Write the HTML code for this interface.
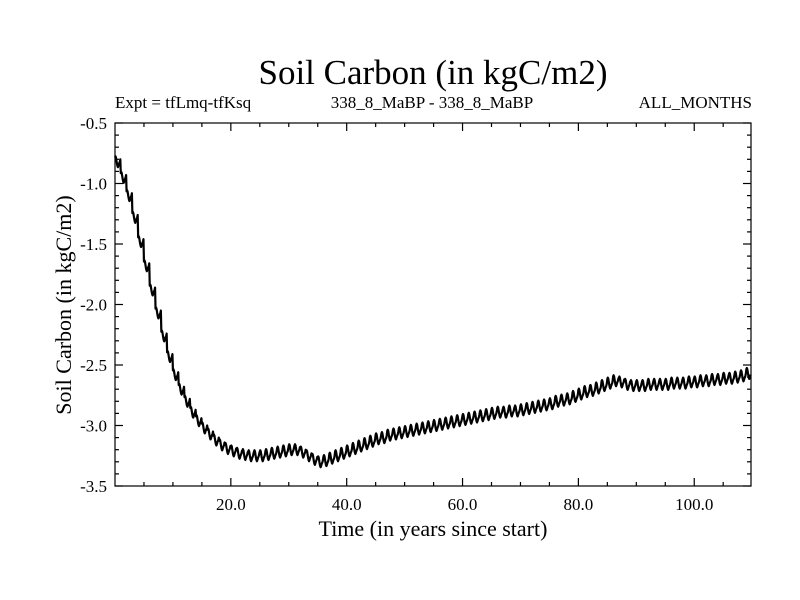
<!DOCTYPE html>
<html><head><meta charset="utf-8"><style>
body{margin:0;background:#fff}
svg{display:block;font-family:"Liberation Serif",serif}
</style></head><body>
<svg width="800" height="600" id="c">
<text x="433" y="84" font-size="35" text-anchor="middle">Soil Carbon (in kgC/m2)</text>
<text x="115" y="108" font-size="17">Expt = tfLmq-tfKsq</text>
<text x="432" y="108" font-size="17" text-anchor="middle">338_8_MaBP - 338_8_MaBP</text>
<text x="752" y="108" font-size="17" text-anchor="end">ALL_MONTHS</text>
<text x="433" y="536" font-size="22" text-anchor="middle">Time (in years since start)</text>
<text transform="translate(71,305) rotate(-90)" font-size="22" text-anchor="middle">Soil Carbon (in kgC/m2)</text>
<g id="axes"></g>
<path id="line" fill="none" stroke="#000" stroke-width="2.2" stroke-linejoin="round"/>
<rect x="115" y="123" width="636" height="363" fill="none" stroke="#000" stroke-width="1.2"/>
</svg>
<script>
const yearlyMean=[-0.82,-0.95,-1.10,-1.28,-1.48,-1.68,-1.88,-2.07,-2.26,-2.43,
-2.58,-2.70,-2.80,-2.89,-2.96,-3.02,-3.07,-3.12,-3.16,-3.19,
-3.21,-3.23,-3.24,-3.25,-3.25,-3.25,-3.24,-3.23,-3.22,-3.21,
-3.20,-3.20,-3.22,-3.25,-3.28,-3.30,-3.29,-3.27,-3.25,-3.23,
-3.21,-3.19,-3.17,-3.15,-3.13,-3.11,-3.10,-3.08,-3.07,-3.06,
-3.05,-3.04,-3.03,-3.02,-3.01,-3.00,-2.99,-2.98,-2.97,-2.96,
-2.95,-2.94,-2.93,-2.92,-2.91,-2.90,-2.89,-2.89,-2.88,-2.88,
-2.87,-2.86,-2.85,-2.84,-2.83,-2.82,-2.80,-2.79,-2.78,-2.76,
-2.74,-2.72,-2.71,-2.69,-2.67,-2.65,-2.63,-2.64,-2.66,-2.67,
-2.67,-2.67,-2.66,-2.66,-2.66,-2.66,-2.65,-2.65,-2.65,-2.64,
-2.64,-2.63,-2.63,-2.62,-2.62,-2.61,-2.61,-2.60,-2.59,-2.57,-2.56];
const seasonalCycle=[0.035,0.045,0.035,0.01,-0.015,-0.035,-0.045,-0.035,-0.02,-0.01,0.0,0.02];
const xTickValues=[20,40,60,80,100];
const xTickLabels=["20.0","40.0","60.0","80.0","100.0"];
const yTickValues=[-0.5,-1.0,-1.5,-2.0,-2.5,-3.0,-3.5];
const yTickLabels=["-0.5","-1.0","-1.5","-2.0","-2.5","-3.0","-3.5"];
const L=115,R=751,T=123,B=486,XMIN=0,XMAX=109.8,YMIN=-3.5,YMAX=-0.5;
const sx=v=>L+(v-XMIN)/(XMAX-XMIN)*(R-L);
const sy=v=>B-(v-YMIN)/(YMAX-YMIN)*(B-T);
const NS="http://www.w3.org/2000/svg";
const ax=document.getElementById('axes');
function ln(x1,y1,x2,y2,name){const l=document.createElementNS(NS,'line');
l.setAttribute('x1',x1);l.setAttribute('y1',y1);l.setAttribute('x2',x2);l.setAttribute('y2',y2);
l.setAttribute('stroke','#000');l.setAttribute('stroke-width','1.2');


ax.appendChild(l);}
function tx(x,y,s,anchor,name){const t=document.createElementNS(NS,'text');
t.setAttribute('x',x);t.setAttribute('y',y);t.setAttribute('font-size','17');t.setAttribute('text-anchor',anchor);t.textContent=s;


ax.appendChild(t);}
for(let v=5;v<XMAX;v+=5){const x=sx(v);const maj=v%20===0;const len=maj?8:4;
ln(x,B,x,B-len,'x-tick');ln(x,T,x,T+len,'x-tick-top');}
xTickValues.forEach((v,i)=>tx(sx(v),B+24,xTickLabels[i],'middle','x-tick-label'));
for(let k=0;k<=30;k++){const v=-3.5+k*0.1;const y=sy(v);const maj=k%5===0;const len=maj?8:4;
ln(L,y,L+len,y,'y-tick');ln(R,y,R-len,y,'y-tick-right');}
yTickValues.forEach((v,i)=>tx(L-8,sy(v)+6,yTickLabels[i],'end','y-tick-label'));
let d='';
yearlyMean.forEach((m,yr)=>{seasonalCycle.forEach((s,mo)=>{const t=yr+mo/12;if(t>XMAX)return;
d+=(d?'L':'M')+sx(t).toFixed(2)+','+sy(m+s).toFixed(2);});});
document.getElementById('line').setAttribute('d',d);
</script>
</body></html>
